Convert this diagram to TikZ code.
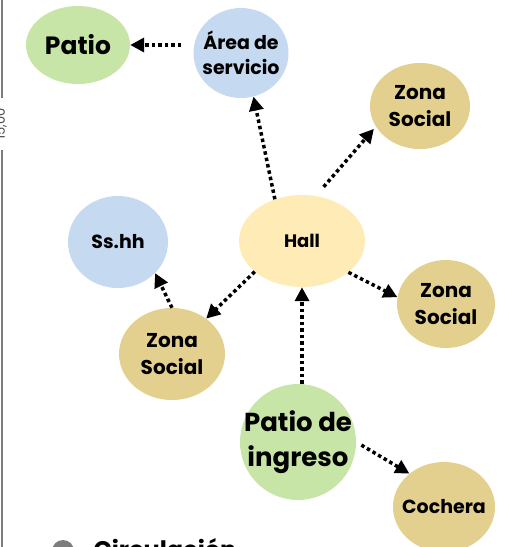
\documentclass[tikz,border=0pt]{standalone}
\usepackage{fontspec}
\setmainfont{Poppins}
\usetikzlibrary{arrows.meta,shapes.geometric,positioning}
\definecolor{verde}{RGB}{200,229,168}
\definecolor{azul}{RGB}{197,217,240}
\definecolor{arena}{RGB}{228,208,142}
\definecolor{crema}{RGB}{255,235,182}
\definecolor{gris}{RGB}{125,125,125}

\tikzset{
  zona/.style={ellipse,inner sep=-60pt,align=center,font=\bfseries\fontsize{20}{27}\selectfont},
  flecha/.style={line width=3.5pt,dash pattern=on 3.5pt off 3pt,
    -{Triangle[length=14pt,width=14pt]}}
}

\begin{document}
\begin{tikzpicture}[x=1pt,y=-1pt]
  \useasboundingbox (0,0) rectangle (508,547);
  % nodes
  \node[zona,fill=verde,minimum width=104pt,minimum height=78pt,
        font=\bfseries\fontsize{25}{30}\selectfont] (patio) at (78,45) {Patio};
  \node[zona,fill=azul,minimum width=95pt,minimum height=90pt,
        font=\bfseries\fontsize{19}{25}\selectfont] (servicio) at (241,53) {Área de\\servicio};
  \node[zona,fill=arena,minimum width=100pt,minimum height=86pt] (zonaA) at (420,106) {Zona\\Social};
  \node[zona,fill=crema,minimum width=126pt,minimum height=92pt,
        font=\bfseries\fontsize{18}{22}\selectfont] (hall) at (302,241) {Hall};
  \node[zona,fill=azul,minimum width=100pt,minimum height=92pt,
        font=\bfseries\fontsize{19}{22}\selectfont] (sshh) at (118,242) {Ss.hh};
  \node[zona,fill=arena,minimum width=106pt,minimum height=92pt] (zonaB) at (172,354) {Zona\\Social};
  \node[zona,fill=arena,minimum width=98pt,minimum height=88pt] (zonaC) at (446,304) {Zona\\Social};
  \node[zona,fill=verde,minimum width=116pt,minimum height=116pt,
        font=\bfseries\fontsize{26}{35}\selectfont] (ingreso) at (298,442) {Patio de\\ingreso};
  \node[zona,fill=arena,minimum width=102pt,minimum height=90pt,
        font=\bfseries\fontsize{19}{22}\selectfont] (cochera) at (444,507) {Cochera};
  % conexiones
  \draw[flecha,shorten <=12pt] (servicio.west |- patio.east) -- (patio.east);
  \draw[flecha] (hall.123) -- (servicio.-74);
  \draw[flecha,shorten <=12pt,shorten >=3pt] (hall.73) -- (zonaA.205);
  \draw[flecha] (hall.-34) -- (zonaC.172);
  \draw[flecha] (hall.213) -- (zonaB.46);
  \draw[flecha] (zonaB.north) -- (sshh.-40);
  \draw[flecha] (hall.south |- ingreso.north) -- (hall.south);
  \draw[flecha,shorten <=6pt] (ingreso.east) -- (cochera.136);
  % borde izquierdo y leyenda
  \draw[gris,line width=1.5pt] (2,0) -- (2,98) (2,150) -- (2,547);
  \node[rotate=90,text=gris!60!black,font=\fontsize{13}{15}\selectfont] (cota) at (1,124) {15,00};
  \fill[gris] (63,551) circle (11pt);
  \node[anchor=base west,font=\bfseries\fontsize{24}{28}\selectfont] (circ) at (90,558) {Circulación};
\end{tikzpicture}
\end{document}
